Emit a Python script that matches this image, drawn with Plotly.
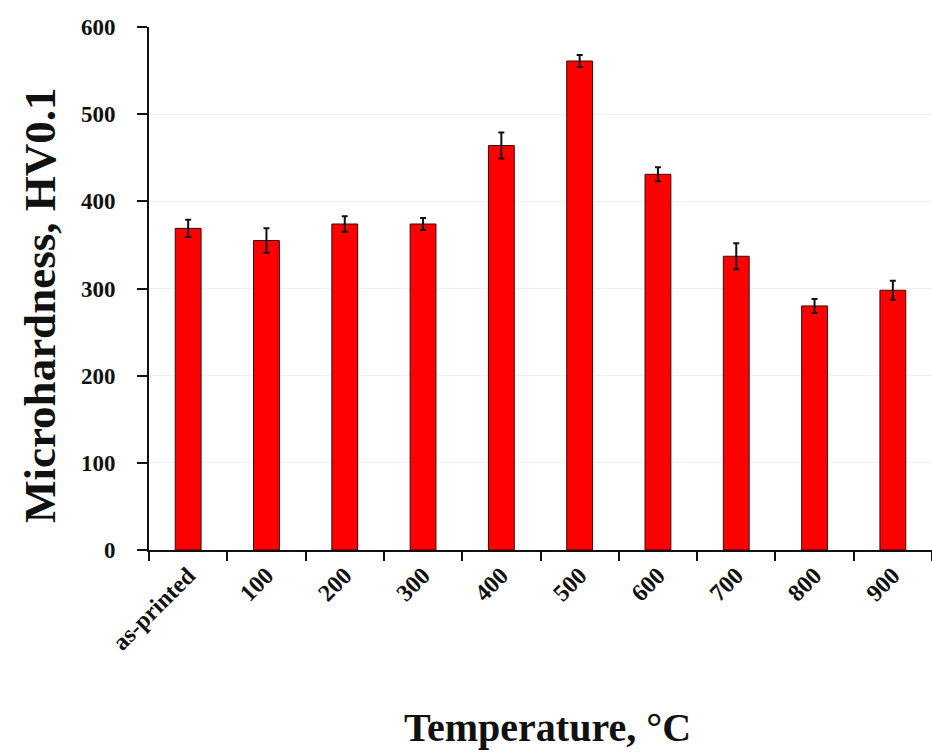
import plotly.graph_objects as go

categories = ["as-printed", "100", "200", "300", "400", "500", "600", "700", "800", "900"]
hardness = [369, 355, 374, 374, 464, 561, 431, 337, 280, 298]
errors = [10, 14, 9, 7, 15, 7, 8, 15, 8, 11]
y_ticks = [0, 100, 200, 300, 400, 500, 600]
x_title = "Temperature, °C"
y_title = "Microhardness, HV0.1"

font_family = "Liberation Serif, DejaVu Serif, serif"

fig = go.Figure(go.Bar(
    x=categories,
    y=hardness,
    width=0.33,
    marker=dict(color="#FF0000", line=dict(color="#3a0a0a", width=1)),
    error_y=dict(type="data", array=errors, visible=True, color="#111111",
                 thickness=2, width=3),
))

L, R, T, B = 149, 0, 27, 206
W, H = 932, 756
pw, ph = W - L - R, H - T - B

fig.update_layout(
    width=W, height=H,
    margin=dict(l=L, r=R, t=T, b=B),
    plot_bgcolor="white", paper_bgcolor="white",
    showlegend=False,
    font=dict(family=font_family, color="#111111"),
    annotations=[
        dict(text=x_title, xref="paper", yref="paper",
             x=(547 - L) / pw, y=(H - B - 727) / ph,
             xanchor="center", yanchor="middle", showarrow=False,
             font=dict(size=40, family=font_family, weight="bold")),
        dict(text=y_title, xref="paper", yref="paper",
             x=(40 - L) / pw, y=(H - B - 306) / ph, textangle=-90,
             xanchor="center", yanchor="middle", showarrow=False,
             font=dict(size=45, family=font_family, weight="bold")),
    ],
)

fig.update_xaxes(
    type="category",
    tickson="boundaries",
    ticks="outside", ticklen=9, tickwidth=2, tickcolor="#111111",
    showline=True, linecolor="#111111", linewidth=2,
    tickangle=-45,
    tickfont=dict(size=24, family=font_family, weight="bold"),
    range=[-0.5, 9.5],
    showgrid=False,
)

fig.update_yaxes(
    range=[0, 600],
    tickvals=y_ticks,
    ticks="outside", ticklen=10, tickwidth=2, tickcolor="#111111",
    ticklabelstandoff=17,
    showline=True, linecolor="#111111", linewidth=2,
    tickfont=dict(size=23, family=font_family, weight="bold"),
    showgrid=True, gridcolor="#f0f0f0", gridwidth=1,
    zeroline=False,
)

fig.write_html("out.html")
